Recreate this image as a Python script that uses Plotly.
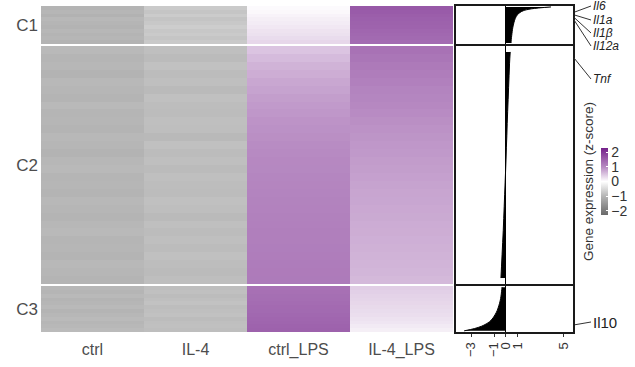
import plotly.graph_objects as go

W, H = 635, 367

# ---------------- data ----------------
conditions = ["ctrl", "IL-4", "ctrl_LPS", "IL-4_LPS"]
clusters = ["C1", "C2", "C3"]

# z-scores (rows listed top -> bottom)
c1_ctrl = [-1.02, -0.98, -1.05, -0.96, -1.00, -1.04, -0.97, -1.01, -0.99, -1.03]
c1_il4 = [-0.72, -0.78, -0.70, -0.80, -0.74, -0.68, -0.76, -0.71, -0.79, -0.73]
c1_ctrl_lps = [0.04, 0.06, 0.10, 0.14, 0.16, 0.20, 0.24, 0.26, 0.30, 0.34]
c1_il4_lps = [1.62, 1.58, 1.55, 1.52, 1.50, 1.48, 1.45, 1.42, 1.40, 1.38]

c2_ctrl = [-0.95, -1.00, -0.97, -1.03, -0.96, -0.99, -1.02, -0.94, -1.00, -0.98,
           -1.01, -0.96, -0.99, -1.03, -0.97, -0.95, -1.00, -0.98, -1.02, -0.96,
           -0.99, -1.01, -0.97, -0.95, -1.00, -0.98, -1.02, -0.96, -0.99, -1.01]
c2_il4 = [-0.86, -0.92, -0.84, -0.90, -0.87, -0.93, -0.85, -0.89, -0.91, -0.86,
          -0.88, -0.94, -0.85, -0.90, -0.87, -0.92, -0.86, -0.89, -0.91, -0.85,
          -0.88, -0.93, -0.86, -0.90, -0.87, -0.91, -0.85, -0.89, -0.92, -0.88]
c2_ctrl_lps = [0.50, 0.58, 0.65, 0.70, 0.75, 0.79, 0.83, 0.86, 0.89, 0.92,
               0.94, 0.96, 0.98, 1.00, 1.02, 1.03, 1.05, 1.06, 1.08, 1.09,
               1.10, 1.11, 1.12, 1.13, 1.14, 1.15, 1.16, 1.17, 1.18, 1.19]
c2_il4_lps = [1.30, 1.25, 1.20, 1.16, 1.12, 1.08, 1.05, 1.02, 0.99, 0.96,
              0.93, 0.91, 0.89, 0.87, 0.85, 0.83, 0.81, 0.79, 0.77, 0.76,
              0.74, 0.73, 0.71, 0.70, 0.68, 0.67, 0.65, 0.64, 0.62, 0.60]

c3_ctrl = [-0.97, -1.00, -0.94, -1.02, -0.98, -0.95, -1.01, -0.97, -0.93, -0.99, -0.96, -0.92]
c3_il4 = [-0.88, -0.85, -0.90, -0.86, -0.83, -0.89, -0.87, -0.84, -0.90, -0.86, -0.85, -0.88]
c3_ctrl_lps = [1.30, 1.32, 1.34, 1.35, 1.37, 1.39, 1.40, 1.42, 1.44, 1.46, 1.48, 1.50]
c3_il4_lps = [0.42, 0.40, 0.38, 0.36, 0.34, 0.32, 0.30, 0.28, 0.25, 0.22, 0.18, 0.14]

# fold change (sorted, top -> bottom) per cluster
c1_fc = [3.9, 2.2, 1.5, 1.2, 1.02, 0.9, 0.82, 0.76, 0.71, 0.67,
         0.63, 0.6, 0.57, 0.55, 0.53, 0.51, 0.49, 0.47, 0.46, 0.45]
c2_fc = [0.38, 0.32, 0.28, 0.24, 0.20, 0.16, 0.12, 0.09, 0.05, 0.02,
         -0.02, -0.06, -0.10, -0.14, -0.18, -0.22, -0.27, -0.32, -0.37, -0.42]
c3_fc = [-0.33, -0.35, -0.37, -0.39, -0.42, -0.45, -0.49, -0.54, -0.60, -0.66,
         -0.73, -0.82, -0.93, -1.05, -1.20, -1.40, -1.70, -2.10, -2.70, -3.60]

fc_ticks = [-3, -1, 0, 1, 5]
fc_ticktext = ["\u22123", "\u22121", "0", "1", "5"]
cbar_ticks = [-2, -1, 0, 1, 2]
cbar_ticktext = ["\u22122", "\u22121", "0", "1", "2"]

genes = ["Il6", "Il1a", "Il1\u03b2", "Il12a", "Tnf", "Il10"]
gene_cluster = [0, 0, 0, 0, 1, 2]
gene_pos = [3.5, 4.5, 5.5, 6.5, 0.9, 17.0]

# ---------------- layout geometry (pixels) ----------------
heat_px = (41, 453)
fc_px = (456, 573)
row_px = [(6, 44), (46, 284), (286, 332)]
label_px_x = 591
label_px_y = [6, 20, 33, 46, 79, 322]
fc_range = [-4.3, 5.8]
zmin, zmax = -2.3, 2.3

def xdom(a, b):
    return [a / W, b / W]

def ydom(a, b):
    return [1 - b / H, 1 - a / H]

heat_data = [
    [c1_ctrl, c1_il4, c1_ctrl_lps, c1_il4_lps],
    [c2_ctrl, c2_il4, c2_ctrl_lps, c2_il4_lps],
    [c3_ctrl, c3_il4, c3_ctrl_lps, c3_il4_lps],
]
fc_data = [c1_fc, c2_fc, c3_fc]

color_anchors = [(-2.3, "#696969"), (-1, "#b5b5b5"), (0, "#ffffff"), (1, "#b78ac2"), (2.3, "#74218a")]
colorscale = [[(z - zmin) / (zmax - zmin), c] for z, c in color_anchors]

FONT = "Liberation Sans, Arial, Helvetica, sans-serif"

fig = go.Figure()
layout = dict(
    width=W, height=H,
    margin=dict(l=0, r=0, t=0, b=0),
    paper_bgcolor="white", plot_bgcolor="white",
    showlegend=False,
    font=dict(family=FONT, color="#333333"),
    coloraxis=dict(
        colorscale=colorscale, cmin=zmin, cmax=zmax,
        colorbar=dict(
            x=601 / W, xanchor="left", y=1 - 181.5 / H, yanchor="middle",
            len=67, lenmode="pixels", thickness=7, thicknessmode="pixels",
            xpad=0, ypad=0,
            outlinewidth=0, tickvals=cbar_ticks, ticktext=cbar_ticktext,
            ticks="inside", ticklen=2, tickcolor="white",
            tickfont=dict(size=14, color="#333333", family=FONT),
        ),
    ),
)

annotations = []
for k in range(3):
    cols = heat_data[k]
    n = len(cols[0])
    z = [[cols[j][i] for j in range(4)] for i in range(n)]
    ax_id = str(k + 1)
    fig.add_trace(go.Heatmap(
        z=z, x=conditions, y=list(range(n)), coloraxis="coloraxis",
        xaxis="x" + ax_id, yaxis="y" + ax_id, hoverinfo="skip",
    ))
    layout["xaxis" + ("" if k == 0 else ax_id)] = dict(
        domain=xdom(*heat_px), anchor="y" + ax_id, type="category",
        range=[-0.5, 3.5], showgrid=False, zeroline=False, showline=False,
        ticks="", showticklabels=(k == 2), ticklabelstandoff=6,
        tickfont=dict(size=16, color="#4d4d4d", family=FONT),
    )
    layout["yaxis" + ("" if k == 0 else ax_id)] = dict(
        domain=ydom(*row_px[k]), anchor="x" + ax_id,
        range=[n - 0.5, -0.5], showgrid=False, zeroline=False, showline=False,
        ticks="", tickvals=[(n - 1) / 2], ticktext=[clusters[k]],
        ticklabelstandoff=2,
        tickfont=dict(size=17, color="#4d4d4d", family=FONT),
    )

    # fold-change panel
    fc = fc_data[k]
    m = len(fc)
    fid = str(k + 4)
    fig.add_trace(go.Scatter(
        x=fc, y=[i + 0.5 for i in range(m)], mode="lines",
        line=dict(color="black", width=1, shape="spline"),
        fill="tozerox", fillcolor="black",
        xaxis="x" + fid, yaxis="y" + fid, hoverinfo="skip",
    ))
    layout["xaxis" + fid] = dict(
        domain=xdom(*fc_px), anchor="y" + fid, range=fc_range,
        showgrid=False, zeroline=True, zerolinecolor="black", zerolinewidth=1,
        showline=True, mirror=True, linecolor="#1a1a1a", linewidth=2,
        tickvals=fc_ticks, ticktext=fc_ticktext,
        ticks="outside" if k == 2 else "", ticklen=3, tickcolor="#333333",
        showticklabels=(k == 2), tickangle=-90, ticklabelstandoff=0,
        tickfont=dict(size=13, color="#333333", family=FONT),
    )
    layout["yaxis" + fid] = dict(
        domain=ydom(*row_px[k]), anchor="x" + fid, range=[m, 0],
        showgrid=False, zeroline=False, showline=True, mirror=True,
        linecolor="#1a1a1a", linewidth=1.5, ticks="", showticklabels=False,
    )

# gene labels with connectors
for g, k, pos, ly in zip(genes, gene_cluster, gene_pos, label_px_y):
    m = len(fc_data[k])
    top, bot = row_px[k]
    head_y = top + pos / m * (bot - top)
    italic = g != "Il10"
    annotations.append(dict(
        x=fc_range[1], y=pos, xref="x" + str(k + 4), yref="y" + str(k + 4),
        text=("<i>%s</i>" % g) if italic else g,
        showarrow=True, arrowhead=0, arrowwidth=1, arrowcolor="#333333",
        ax=label_px_x - fc_px[1], ay=ly - head_y, standoff=2,
        xanchor="left", yanchor="middle",
        font=dict(size=12 if italic else 15, color="#222222", family=FONT),
    ))

annotations.append(dict(
    x=588 / W, y=1 - 182 / H, xref="paper", yref="paper",
    text="Gene expression (z-score)", textangle=-90, showarrow=False,
    xanchor="center", yanchor="middle",
    font=dict(size=13.5, color="#333333", family=FONT),
))
layout["annotations"] = annotations

fig.update_layout(**layout)
fig.write_html("out.html", config={"displayModeBar": False},
               post_script="document.body.style.margin='0px';")
